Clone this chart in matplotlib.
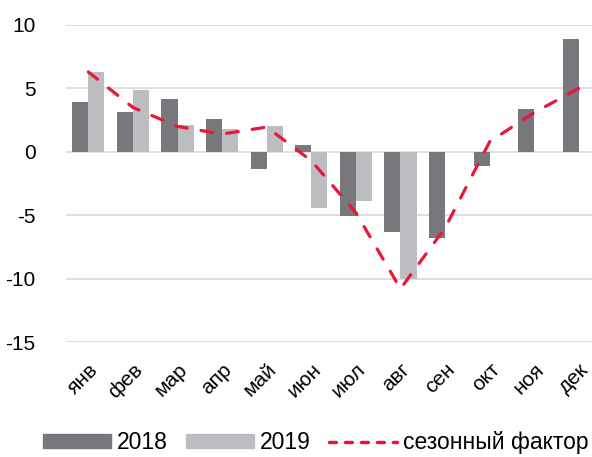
import numpy as np
import matplotlib
matplotlib.use('Agg')
import matplotlib.pyplot as plt
from matplotlib.patches import Patch
from matplotlib.lines import Line2D

plt.rcParams['font.family'] = ['Liberation Sans', 'DejaVu Sans']
plt.rcParams['axes.unicode_minus'] = False

# month labels
months = ['янв', 'фев', 'мар', 'апр', 'май', 'июн',
          'июл', 'авг', 'сен', 'окт', 'ноя', 'дек']
# 2018 and 2019 values
v2018 = [3.9, 3.1, 4.2, 2.55, -1.35, 0.5, -5.1, -6.35, -6.8, -1.1, 3.4, 8.9]
v2019 = [6.3, 4.9, 2.1, 1.8, 2.0, -4.45, -3.9, -10.05,
         np.nan, np.nan, np.nan, np.nan]
# seasonal factor
season = [6.3, 3.5, 2.0, 1.4, 1.95, -0.7, -4.8, -10.8, -6.0, 0.8, 3.1, 5.0]

dark = '#77787b'
light = '#bcbdc0'
red = '#e8173b'

fig = plt.figure(figsize=(5.92, 4.57), dpi=100)
ax = fig.add_axes([0.1115, 0.2516, 0.904, 0.6937])

x = np.arange(len(months))
w = 0.36
ax.bar(x - w / 2, v2018, w, color=dark, zorder=2)
ax.bar(x + w / 2, v2019, w, color=light, zorder=2)
ax.plot(x, season, color=red, lw=2.3, linestyle=(0, (3.7, 4.4)),
        dash_capstyle='round', zorder=3)

ax.set_xlim(-0.5, 11.5)
ax.set_ylim(-15, 10)
ax.set_yticks([10, 5, 0, -5, -10, -15])
ax.grid(axis='y', color='#d9d9d9', lw=1.2, zorder=0)
ax.set_axisbelow(True)
for s in ax.spines.values():
    s.set_visible(False)
ax.tick_params(axis='both', length=0, labelsize=15)
ax.tick_params(axis='y', pad=22)
ax.set_xticks(x)
ax.set_xticklabels(months, rotation=45, ha='right', va='top',
                   rotation_mode='anchor', fontsize=15)
ax.tick_params(axis='x', pad=13)

handles = [Patch(color=dark, label='2018'),
           Patch(color=light, label='2019'),
           Line2D([0], [0], color=red, lw=2.5, linestyle=(0, (2.0, 2.6)),
                  dash_capstyle='round', label='сезонный фактор')]
fig.legend(handles=handles, ncol=3, loc='center', bbox_to_anchor=(0.534, 0.031),
           frameon=False, fontsize=16.5, handlelength=2.97, handleheight=0.57,
           handletextpad=0.26, columnspacing=0.79, borderaxespad=0)

fig.savefig('out.png', dpi=100)
